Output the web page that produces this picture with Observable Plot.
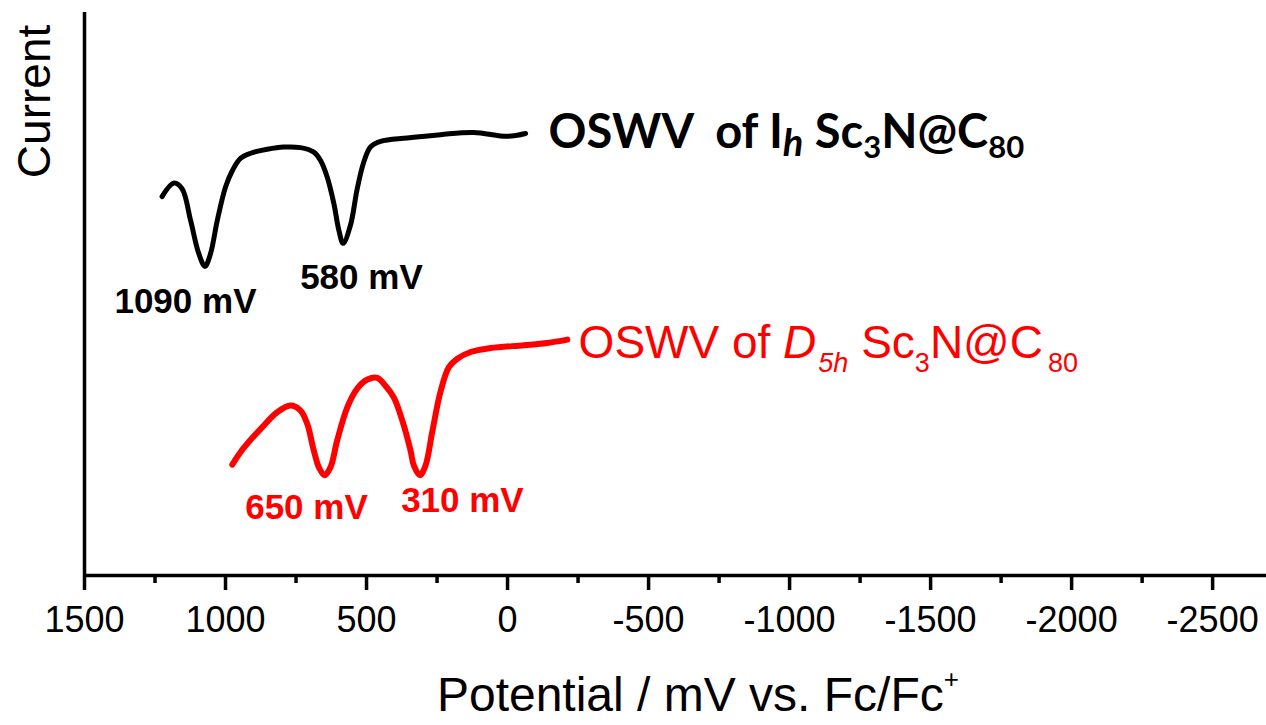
<!DOCTYPE html>
<html><head><meta charset="utf-8">
<script src="https://cdn.jsdelivr.net/npm/d3@7"></script>
<script src="https://cdn.jsdelivr.net/npm/@observablehq/plot@0.6"></script>
<style>body{margin:0;background:#fff} svg{display:block}</style>
</head><body><div id="chart"></div>
<script>
// Ih Sc3N@C80 OSWV trace (potential in mV vs Fc/Fc+, current in arbitrary units)
const ihPotential = [1225,1183,1154,1124,1095,1073,1053,1029,1000,976,947,911,852,793,734,687,663,639,616,598,583,557,533,510,486,450,356,238,120,1,-64];
const ihCurrent   = [67.3,69.7,68.7,63.1,57.2,54.9,57.2,63.1,69.0,71.9,74.1,75.0,75.7,76.1,76.0,75.2,73.7,70.7,66.1,61.3,59.0,62.2,68.7,73.4,76.1,77.1,77.7,78.3,78.7,78.0,78.5];
// D5h Sc3N@C80 OSWV trace
const d5hPotential = [976,947,911,876,817,770,734,710,687,669,649,628,604,568,533,497,462,433,403,373,344,332,311,291,267,238,208,178,131,60,-58,-141,-212];
const d5hCurrent   = [19.7,21.9,24.1,26.0,29.0,30.2,29.3,26.9,22.2,19.2,17.8,19.2,24.0,29.9,33.2,34.8,35.1,33.7,31.6,27.5,22.2,19.5,17.8,19.5,25.5,32.6,37.0,38.5,39.7,40.4,40.9,41.3,41.9];

const xTicks = [1500,1000,500,0,-500,-1000,-1500,-2000,-2500];
const xMinorTicks = [1250,750,250,-250,-750,-1250,-1750,-2250];

// peak annotations (anchored in data units)
const ihPeakLabels = ["1090 mV","580 mV"];
const ihPeakX = [1142,518];
const ihPeakY = [46.7,50.8];
const d5hPeakLabels = ["650 mV","310 mV"];
const d5hPeakX = [713,160];
const d5hPeakY = [10.1,11.2];

const ihTitle = "OSWV  of Ih Sc3N@C80";
const d5hTitle = "OSWV of D5h Sc3N@C80";
const xLabel = "Potential / mV vs. Fc/Fc+";
const yLabel = "Current";

const ih = ihPotential.map((p,i)=>({p, c: ihCurrent[i]}));
const d5h = d5hPotential.map((p,i)=>({p, c: d5hCurrent[i]}));
const ihPeaks = ihPeakLabels.map((t,i)=>({t, x: ihPeakX[i], y: ihPeakY[i]}));
const d5hPeaks = d5hPeakLabels.map((t,i)=>({t, x: d5hPeakX[i], y: d5hPeakY[i]}));

const RED = "#ff0000";
const sans = "'Liberation Sans', Arial, sans-serif";

const chart = Plot.plot({
  width: 1266, height: 725,
  marginLeft: 84, marginRight: 0, marginTop: 12, marginBottom: 150,
  style: {fontFamily: sans, background: "#fff", overflow: "visible"},
  x: {domain: [1500, -2691], label: null},
  y: {domain: [0, 100], label: null, axis: null},
  marks: [
    Plot.ruleY([0], {strokeWidth: 3.5}),
    Plot.ruleX([1500], {y1: 0, y2: 100, strokeWidth: 3.5}),
    Plot.axisX(xTicks, {tickSize: 15, strokeWidth: 3.5, tickPadding: 16, fontSize: 36, tickFormat: d => String(d), label: null, fill: "#000"}),
    Plot.axisX(xMinorTicks, {tickSize: 8, strokeWidth: 3.5, tickFormat: () => "", label: null}),
    Plot.line(ih, {x: "p", y: "c", stroke: "#000", strokeWidth: 5, curve: "catmull-rom"}),
    Plot.line(d5h, {x: "p", y: "c", stroke: RED, strokeWidth: 6, curve: "catmull-rom"}),
    Plot.text(ihPeaks, {x: "x", y: "y", text: "t", fontSize: 35, fontWeight: "bold", fill: "#000", lineAnchor: "bottom"}),
    Plot.text(d5hPeaks, {x: "x", y: "y", text: "t", fontSize: 35, fontWeight: "bold", fill: RED, lineAnchor: "bottom"}),
    Plot.text([ihTitle], {x: -145, y: 76, text: d => d, textAnchor: "start", lineAnchor: "bottom", fontSize: 47, fontWeight: "bold", fontFamily: "Lato, 'Open Sans', sans-serif", fill: "#000"}),
    Plot.text([d5hTitle], {x: -252, y: 38.7, text: d => d, textAnchor: "start", lineAnchor: "bottom", fontSize: 46, fill: RED}),
    Plot.text([xLabel], {x: -675, y: -24, text: d => d, lineAnchor: "bottom", fontSize: 48, fill: "#000"}),
    Plot.text([yLabel], {x: 1674, y: 84.2, text: d => d, rotate: -90, lineAnchor: "middle", fontSize: 46, fill: "#000"})
  ]
});
document.getElementById("chart").appendChild(chart);

// rich text (italics, subscripts, superscripts) as tspans
function richify(plain, segs) {
  d3.select(chart).selectAll("text").filter(function(){ return this.textContent === plain; }).each(function(){
    const t = d3.select(this).style("white-space", "pre").text(null);
    let shift = 0;
    for (const s of segs) {
      const sp = t.append("tspan").text(s.t);
      const want = s.dy || 0;
      if (want !== shift) { sp.attr("dy", want - shift); shift = want; }
      if (s.size) sp.attr("font-size", s.size);
      if (s.italic) sp.attr("font-style", "italic");
      if (s.dx) sp.attr("dx", s.dx);
    }
  });
}
richify(ihTitle, [{t:"OSWV  of I"},{t:"h", italic:true, size:38, dy:8},{t:" Sc"},{t:"3", size:31, dy:10},{t:"N@C"},{t:"80", size:31, dy:10}]);
richify(d5hTitle, [{t:"OSWV of "},{t:"D", italic:true},{t:"5h", italic:true, size:27, dy:14, dx:2},{t:" Sc"},{t:"3", size:27, dy:14},{t:"N@C"},{t:"80", size:27, dy:14, dx:5}]);
richify(xLabel, [{t:"Potential / mV vs. Fc/Fc"},{t:"+", size:26, dy:-23}]);
</script>
</body></html>
